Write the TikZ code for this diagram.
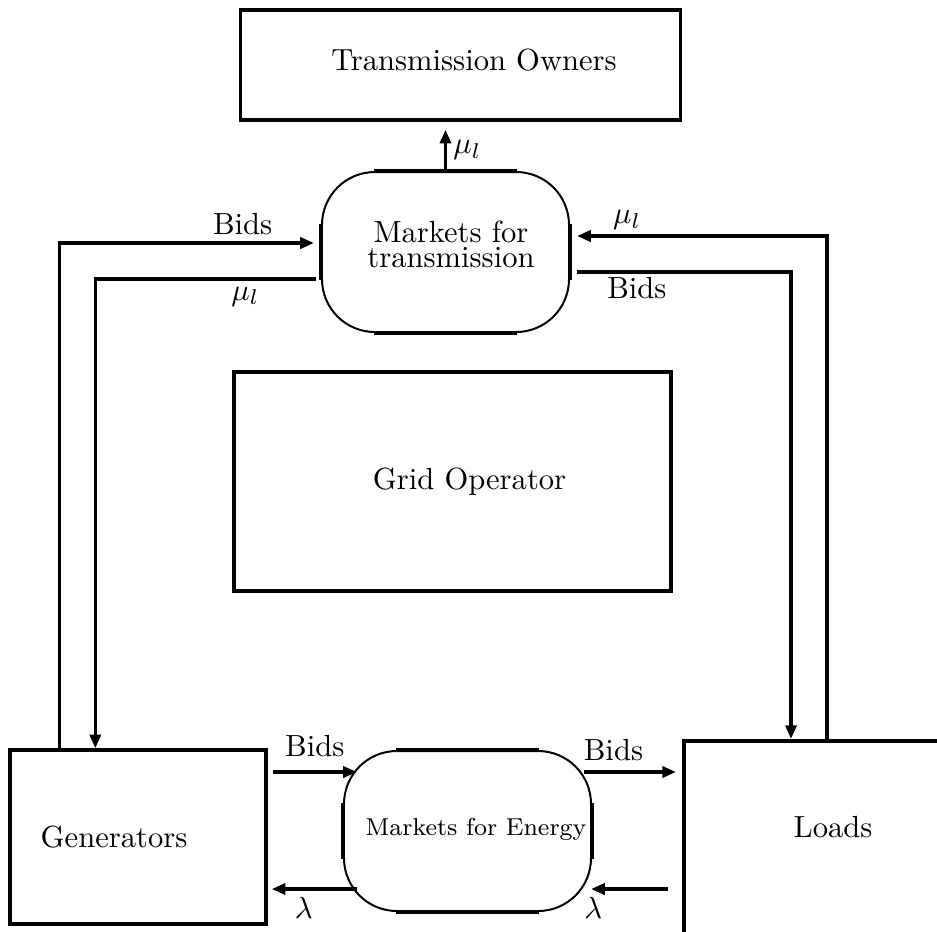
\documentclass[tikz,border=0pt]{standalone}
\usetikzlibrary{arrows.meta,calc}
% drawing unit: one grid step
\def\px{0.327pt}
\tikzset{
  box/.style={draw, line width=1.1pt, inner sep=0pt},
  market/.style={draw, line width=0.65pt, rounded corners=17.3pt, inner sep=0pt,
                 minimum width=247*\px, minimum height=160*\px},
  flat/.style={line width=1.1pt},
  flow/.style={line width=1.15pt, -{Triangle[length=4.5pt,width=3.6pt]}},
  tag/.style={font=\fontsize{10}{12}\selectfont, inner sep=2pt}
}
\begin{document}
\begin{tikzpicture}[x=\px, y=-\px]
\useasboundingbox (0,0) rectangle (937,931);
\clip (0,0) rectangle (937,931);

% participants
\node[box, minimum width=440*\px, minimum height=110*\px,
      label={[xshift=13.5*\px, yshift=4.5*\px]center:Transmission Owners}] (to) at (460.5,65) {};
\node[market,
      label={[align=center, font=\fontsize{10}{8.2}\selectfont, xshift=5.5*\px, yshift=8*\px]center:{Markets for\\transmission}}] (mt) at (445.5,252) {};
\node[box, minimum width=437*\px, minimum height=219*\px,
      label={[xshift=17*\px]center:Grid Operator}] (go) at (452.5,481.5) {};
\node[box, minimum width=256*\px, minimum height=174*\px,
      label={[xshift=-24*\px]center:Generators}] (gen) at (138,837) {};
\node[market,
      label={[font=\fontsize{8}{9.6}\selectfont, xshift=8.5*\px, yshift=2*\px]center:Markets for Energy}] (me) at (467.5,831) {};
\node[box, line width=1.3pt, minimum width=400*\px, minimum height=400*\px,
      label={[xshift=-51*\px, yshift=113.5*\px]center:Loads}] (ld) at (884,941) {};

% heavier straight sides of the market boxes
\foreach \m in {mt,me} {
  \draw[flat] ($(\m.north west)+(53,0)$) -- ($(\m.north east)+(-53,0)$);
  \draw[flat] ($(\m.south west)+(53,0)$) -- ($(\m.south east)+(-53,0)$);
  \draw[flat] ($(\m.north west)+(0,53)$) -- ($(\m.south west)+(0,-53)$);
  \draw[flat] ($(\m.north east)+(0,53)$) -- ($(\m.south east)+(0,-53)$);
}

% transmission market flows
\draw[flow] (mt.north) -- ($(mt.north |- to.south)+(0,8)$)
  node[tag, midway, right] {$\mu_l$};
\draw[flow] ($(gen.north west)+(51,0)$) |- ($(mt.west)+(-7,-9)$)
  node[tag, pos=0.86, above] {Bids};
\draw[flow] ($(mt.west)+(-5,27)$) -| ($(gen.north west)+(87,0)$)
  node[tag, pos=0.16, below] {$\mu_l$};
\draw[flow] ($(ld.north west)+(145,0)$) |- ($(mt.east)+(7,-16)$)
  node[tag, pos=0.9, above, inner sep=1.5pt] {$\mu_l$};
\draw[flow] ($(mt.east)+(7,20)$) -| ($(ld.north west)+(109,0)$)
  node[tag, pos=0.14, below, inner sep=1pt] {Bids};

% energy market flows
\coordinate (gb) at ($(gen.east)+(5,-65)$);
\draw[flow] (gb) -- ($(gb -| me.west)+(14,0)$)
  node[tag, midway, above=2.5pt] {Bids};
\coordinate (eb) at ($(me.east)+(-8,-59)$);
\draw[flow] (eb) -- ($(eb -| ld.west)+(-6,0)$)
  node[tag, pos=0.32, above=1pt] {Bids};
\coordinate (el) at ($(me.west)+(14,58)$);
\draw[flow] (el) -- ($(el -| gen.east)+(4,0)$)
  node[tag, pos=0.625, below] {$\lambda$};
\coordinate (er) at ($(ld.west |- el)+(-14,0)$);
\draw[flow] (er) -- ($(er -| me.east)+(-1,0)$)
  node[tag, pos=0.97, below] {$\lambda$};
\end{tikzpicture}
\end{document}
